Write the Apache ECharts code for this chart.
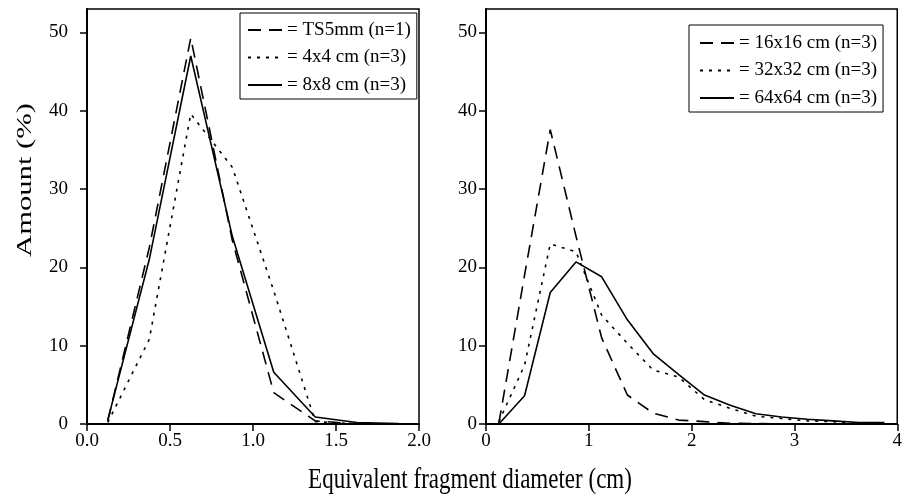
<!DOCTYPE html>
<html>
<head>
<meta charset="utf-8">
<script src="https://cdn.jsdelivr.net/npm/echarts@6/dist/echarts.min.js"></script>
<style>
html,body{margin:0;padding:0;background:#fff;}
#chart{width:905px;height:497px;}
</style>
</head>
<body>
<div id="chart"></div>
<script>
// Left panel
var xLeft = [0.125, 0.375, 0.625, 0.875, 1.125, 1.375, 1.625, 1.875];
var ts5mm = [0.4, 22.5, 49.3, 23.5, 4.0, 0.4, 0, 0];
var cm4x4 = [0.2, 10.8, 39.6, 32.8, 17.0, 0.3, 0, 0];
var cm8x8 = [0.5, 21.0, 47.0, 24.0, 6.6, 0.9, 0.2, 0.05];
// Right panel
var xRight = [0.125, 0.375, 0.625, 0.875, 1.125, 1.375, 1.625, 1.875, 2.125, 2.375, 2.625, 2.875, 3.125, 3.375, 3.625, 3.875];
var cm16x16 = [0.1, 19.0, 37.6, 24.0, 11.0, 3.7, 1.4, 0.5, 0.3, 0.1, 0.05, 0, 0, 0, 0, 0];
var cm32x32 = [0.3, 7.5, 23.0, 22.0, 13.9, 10.3, 6.9, 6.0, 3.1, 2.0, 1.0, 0.7, 0.4, 0.3, 0.1, 0.1];
var cm64x64 = [0, 3.6, 16.8, 20.7, 18.8, 13.3, 9.0, 6.3, 3.7, 2.4, 1.3, 0.9, 0.6, 0.4, 0.2, 0.2];

var namesLeft = ['TS5mm (n=1)', '4x4 cm (n=3)', '8x8 cm (n=3)'];
var namesRight = ['16x16 cm (n=3)', '32x32 cm (n=3)', '64x64 cm (n=3)'];
var yTicks = {min: 0, max: 53, interval: 10};
var yTitle = 'Amount (%)';
var xTitle = 'Equivalent fragment diameter (cm)';

var FONT = 'Liberation Serif';
var FS = 19;

function pairs(xs, ys) { return xs.map(function (x, i) { return [x, ys[i]]; }); }

var dashT = [13, 8], dotT = [3, 6];

function mkSeries(name, xs, ys, idx, type) {
  return {
    name: name, type: 'line', xAxisIndex: idx, yAxisIndex: idx,
    data: pairs(xs, ys), symbol: 'none', silent: true,
    lineStyle: {color: '#000', width: 1.6, type: type},
    itemStyle: {color: '#000'}
  };
}

function xAxis(idx, max, interval, fmt) {
  return {
    type: 'value', gridIndex: idx, min: 0, max: max, interval: interval,
    axisLine: {show: true, lineStyle: {color: '#000', width: 2}},
    axisTick: {show: true, length: 7, lineStyle: {color: '#000', width: 1.5}},
    axisLabel: {color: '#000', fontFamily: FONT, fontSize: FS, margin: 8, formatter: fmt},
    splitLine: {show: false}
  };
}
function yAxis(idx, margin) {
  return {
    type: 'value', gridIndex: idx, min: yTicks.min, max: yTicks.max, interval: yTicks.interval,
    axisLine: {show: true, lineStyle: {color: '#000', width: 2}},
    axisTick: {show: true, length: 7, lineStyle: {color: '#000', width: 1.5}},
    axisLabel: {color: '#000', fontFamily: FONT, fontSize: FS, margin: margin,
      showMaxLabel: false},
    splitLine: {show: false}
  };
}
function legend(names, left, top, padding) {
  return {
    data: names, orient: 'vertical', left: left, top: top,
    itemWidth: 34, itemHeight: 14, itemGap: 7.5,
    padding: padding,
    borderColor: '#000', borderWidth: 1, backgroundColor: '#fff',
    itemStyle: {opacity: 0},
    formatter: function (n) { return '= ' + n; },
    textStyle: {color: '#000', fontFamily: FONT, fontSize: FS, lineHeight: 20},
    selectedMode: false
  };
}

var chart = echarts.init(document.getElementById('chart'), null, {renderer: 'canvas'});
chart.setOption({
  animation: false,
  backgroundColor: '#fff',
  grid: [
    {left: 87, top: 9, width: 332, height: 415, show: true, borderColor: '#000', borderWidth: 1.5},
    {left: 486, top: 9, width: 415, height: 415, show: true, borderColor: '#000', borderWidth: 1.5}
  ],
  xAxis: [
    xAxis(0, 2, 0.5, function (v) { return v.toFixed(1); }),
    xAxis(1, 4, 1, function (v) { return String(v); })
  ],
  yAxis: [yAxis(0, 19), yAxis(1, 9)],
  legend: [legend(namesLeft, 240, 13, [7, 6, 4, 7]), legend(namesRight, 689, 25, [8, 6, 4, 10])],
  graphic: [
    {type: 'text', x: 26, y: 180, rotation: Math.PI / 2, scaleX: 1.53,
      style: {text: yTitle, fill: '#000', font: '20px "' + FONT + '"',
        align: 'center', verticalAlign: 'middle'}},
    {type: 'text', x: 470, y: 480, scaleY: 1.3,
      style: {text: xTitle, fill: '#000', font: '23px "' + FONT + '"',
        align: 'center', verticalAlign: 'middle'}}
  ],
  series: [
    mkSeries(namesLeft[0], xLeft, ts5mm, 0, dashT),
    mkSeries(namesLeft[1], xLeft, cm4x4, 0, dotT),
    mkSeries(namesLeft[2], xLeft, cm8x8, 0, 'solid'),
    mkSeries(namesRight[0], xRight, cm16x16, 1, dashT),
    mkSeries(namesRight[1], xRight, cm32x32, 1, dotT),
    mkSeries(namesRight[2], xRight, cm64x64, 1, 'solid')
  ]
});
</script>
</body>
</html>
